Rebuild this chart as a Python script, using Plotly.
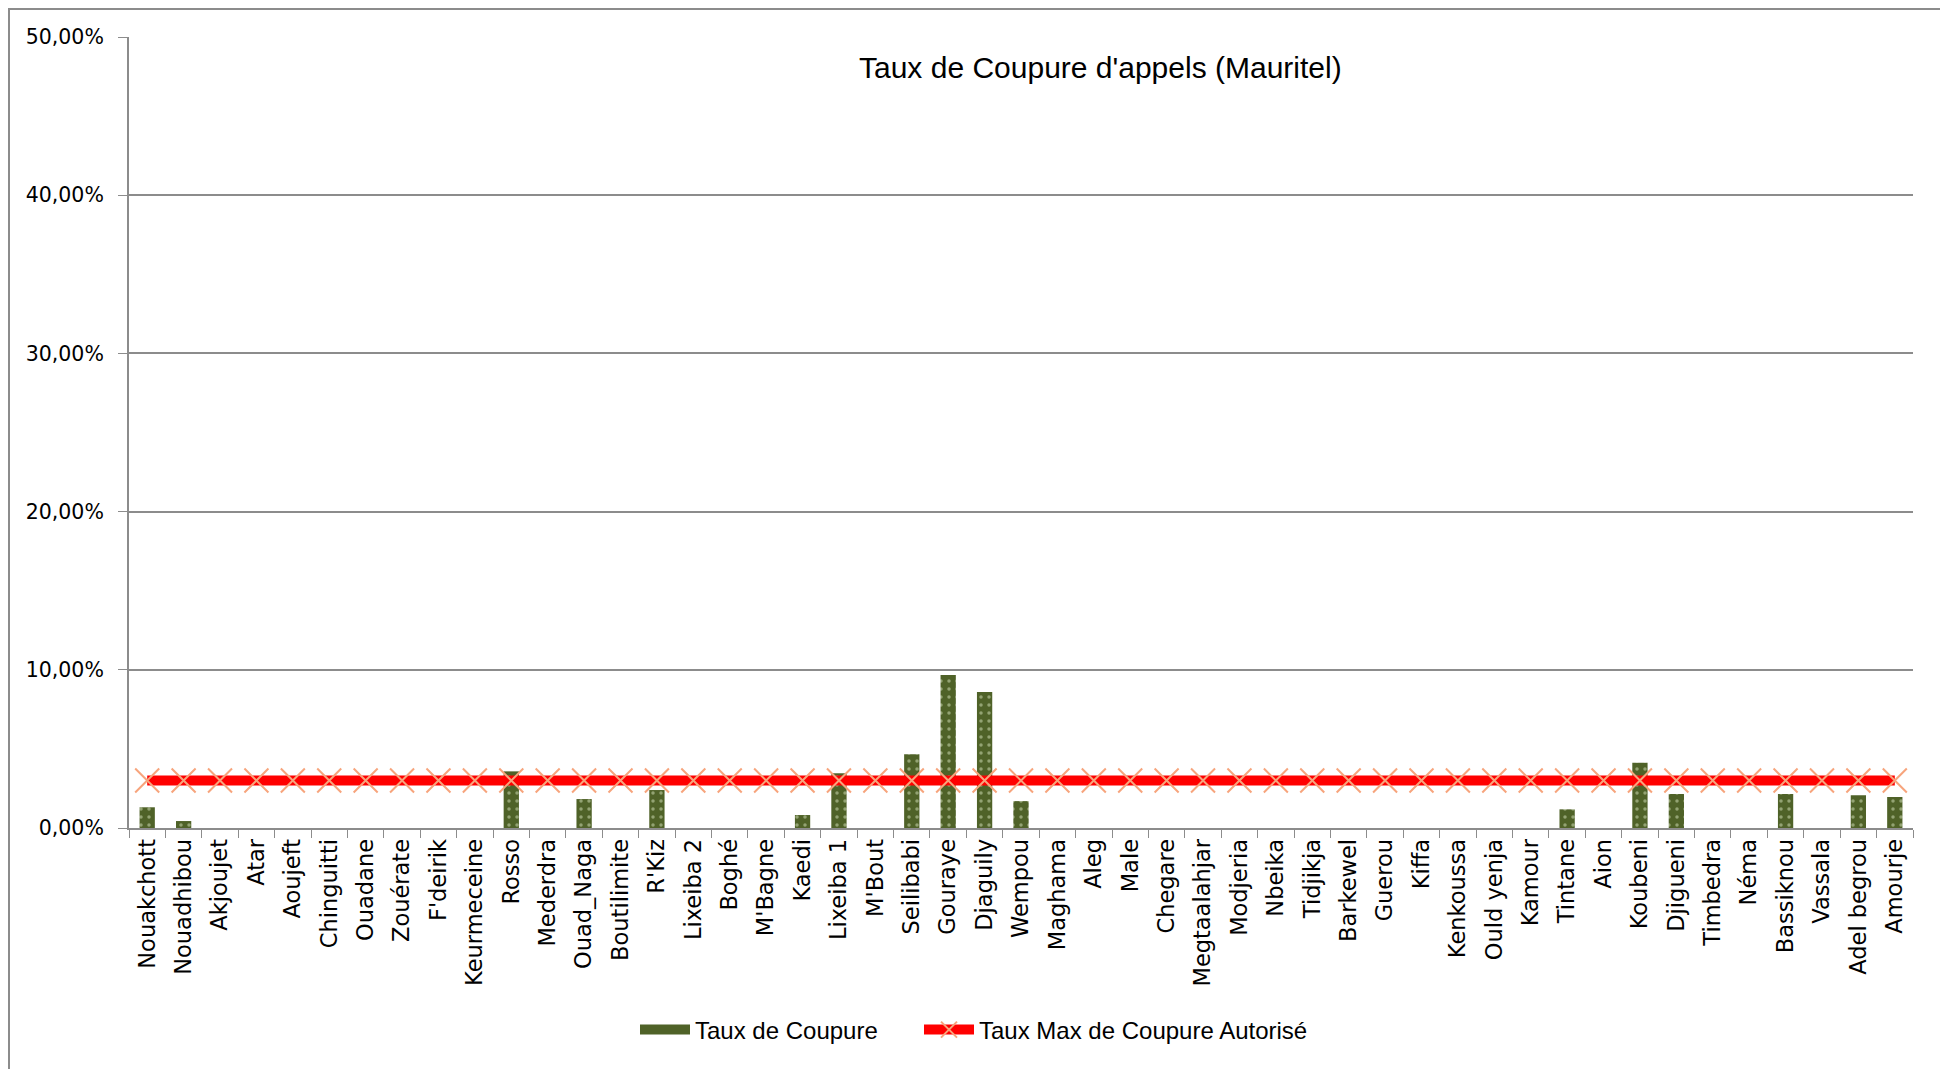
import plotly.graph_objects as go

categories = ["Nouakchott", "Nouadhibou", "Akjoujet", "Atar", "Aoujeft", "Chinguitti", "Ouadane",
              "Zouérate", "F'deirik", "Keurmeceine", "Rosso", "Mederdra", "Ouad_Naga", "Boutilimite",
              "R'Kiz", "Lixeiba 2", "Boghé", "M'Bagne", "Kaedi", "Lixeiba 1", "M'Bout", "Seilibabi",
              "Gouraye", "Djaguily", "Wempou", "Maghama", "Aleg", "Male", "Chegare", "Megtaalahjar",
              "Modjeria", "Nbeika", "Tidjikja", "Barkewel", "Guerou", "Kiffa", "Kenkoussa", "Ould yenja",
              "Kamour", "Tintane", "Aion", "Koubeni", "Djigueni", "Timbedra", "Néma", "Bassiknou",
              "Vassala", "Adel begrou", "Amourje"]

taux_coupure = [0.0131, 0.0044, 0, 0, 0, 0, 0,
                0, 0, 0, 0.0358, 0, 0.0183, 0,
                0.0240, 0, 0, 0, 0.0082, 0.0346, 0, 0.0466,
                0.0967, 0.0860, 0.0170, 0, 0, 0, 0, 0,
                0, 0, 0, 0, 0, 0, 0, 0,
                0, 0.0118, 0, 0.0413, 0.0215, 0, 0, 0.0215,
                0, 0.0207, 0.0196]

taux_max = [0.03] * len(categories)

title_text = "Taux de Coupure d'appels (Mauritel)"
legend_font = "Liberation Sans, Arial, sans-serif"
tick_font = "DejaVu Sans, Verdana, sans-serif"

BAR_GREEN = "#4F6228"

# page has 8px body margin, so figure is shifted by 8px
W, H = 1940, 1061
L, R, T, B = 121, 35, 29, 241
PW, PH = W - L - R, H - T - B

def px_to_paper_x(px):
    return (px - 8 - L) / PW

def px_to_paper_y(py):
    return (H - B - (py - 8)) / PH

fig = go.Figure()
fig.add_trace(go.Bar(
    x=categories, y=taux_coupure, name="Taux de Coupure",
    width=0.42, showlegend=False, legendgroup="bar",
    marker=dict(color=BAR_GREEN, line=dict(width=0),
                pattern=dict(shape=".", fgcolor="#D7E4BD", bgcolor=BAR_GREEN, size=8, solidity=0.15)),
))
# legend swatch for the bar series
fig.add_trace(go.Scatter(
    x=[None], y=[None], name="Taux de Coupure", legendgroup="bar", legend="legend",
    mode="lines", line=dict(color=BAR_GREEN, width=17),
))
fig.add_trace(go.Scatter(
    x=categories, y=taux_max, name="Taux Max de Coupure Autorisé", legend="legend2",
    mode="lines+markers",
    line=dict(color="#FF0000", width=10),
    marker=dict(symbol="x-thin", size=24, line=dict(color="#F7A47C", width=2), color="#F7A47C"),
))

leg_common = dict(orientation="h", yanchor="middle", y=px_to_paper_y(1030),
                  font=dict(family=legend_font, size=24, color="black"), itemwidth=50,
                  xanchor="left", bgcolor="rgba(0,0,0,0)")

fig.update_layout(
    width=W, height=H,
    margin=dict(l=L, r=R, t=T, b=B),
    paper_bgcolor="white", plot_bgcolor="white",
    separators=", ",
    showlegend=True,
    legend=dict(x=px_to_paper_x(635), **leg_common),
    legend2=dict(x=px_to_paper_x(919), **leg_common),
    font=dict(family=tick_font, color="black"),
    annotations=[dict(text=title_text, xref="paper", yref="paper",
                      x=px_to_paper_x(1100), y=px_to_paper_y(68), xanchor="center", yanchor="middle",
                      showarrow=False, font=dict(family=legend_font, size=30, color="black"))],
    shapes=[dict(type="rect", xref="paper", yref="paper",
                 x0=px_to_paper_x(9), x1=px_to_paper_x(1943),
                 y0=px_to_paper_y(1200), y1=px_to_paper_y(9),
                 line=dict(color="#8C8C8C", width=2), layer="below")],
)
fig.update_yaxes(range=[0, 0.5], dtick=0.1, tickformat=".2%",
                 showgrid=True, gridcolor="#8C8C8C", gridwidth=1.5,
                 showline=True, linecolor="#8C8C8C", linewidth=2,
                 ticks="outside", ticklen=9, tickcolor="#8C8C8C",
                 ticklabelstandoff=10,
                 tickfont=dict(size=20.5, family=tick_font),
                 zeroline=False)
fig.update_xaxes(tickangle=-90, showline=True, linecolor="#8C8C8C", linewidth=2,
                 ticks="outside", ticklen=8, tickcolor="#8C8C8C", tickson="boundaries",
                 tickfont=dict(size=22.5, family=tick_font),
                 showgrid=False, range=[-0.5, len(categories) - 0.5])

fig.write_html("out.html")
